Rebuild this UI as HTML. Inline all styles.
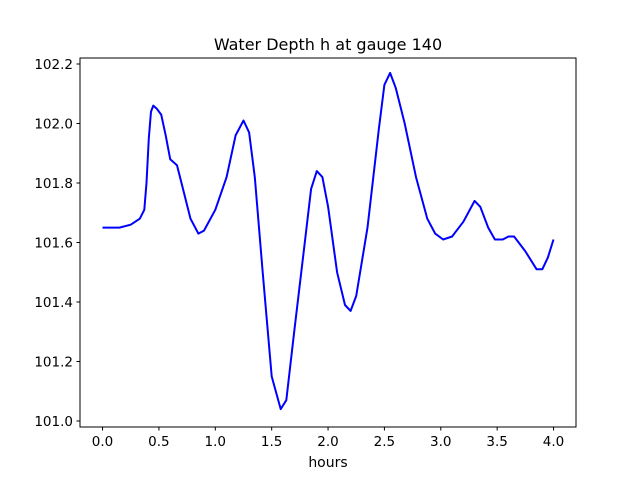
<!DOCTYPE html>
<html><head><meta charset="utf-8"><style>
body{margin:0;background:#fff}
svg text{font-family:"DejaVu Sans","Liberation Sans",sans-serif;fill:#000}
</style></head><body>
<svg width="640" height="480" xmlns="http://www.w3.org/2000/svg">
<rect width="640" height="480" fill="#fff"/>
<text x="328" y="50" font-size="16" text-anchor="middle">Water Depth h at gauge 140</text>
<g id="xt"></g>
<g id="yt"></g>
<polyline id="line" fill="none" stroke="#0000ff" stroke-width="2" stroke-linejoin="round"/>
<rect x="80" y="58" width="496" height="369" fill="none" stroke="#000" stroke-width="1"/>
<text x="328" y="467" font-size="14" text-anchor="middle">hours</text>
</svg>
<script>
const hours=[0,0.15,0.25,0.33,0.37,0.39,0.41,0.43,0.45,0.48,0.52,0.56,0.6,0.63,0.66,0.7,0.78,0.85,0.9,1.0,1.1,1.18,1.25,1.3,1.35,1.42,1.5,1.58,1.63,1.7,1.8,1.85,1.9,1.95,2.0,2.08,2.15,2.2,2.25,2.35,2.45,2.5,2.55,2.6,2.68,2.78,2.88,2.95,3.02,3.1,3.2,3.3,3.35,3.42,3.48,3.55,3.6,3.65,3.75,3.85,3.9,3.95,4.0];
const depth=[101.65,101.65,101.66,101.68,101.71,101.8,101.95,102.04,102.06,102.05,102.03,101.96,101.88,101.87,101.86,101.8,101.68,101.63,101.64,101.71,101.82,101.96,102.01,101.97,101.82,101.50,101.15,101.04,101.07,101.3,101.62,101.78,101.84,101.82,101.72,101.50,101.39,101.37,101.42,101.65,101.98,102.13,102.17,102.12,102.00,101.82,101.68,101.63,101.61,101.62,101.67,101.74,101.72,101.65,101.61,101.61,101.62,101.62,101.57,101.51,101.51,101.55,101.61];
const xTicks=[0.0,0.5,1.0,1.5,2.0,2.5,3.0,3.5,4.0];
const yTicks=[101.0,101.2,101.4,101.6,101.8,102.0,102.2];
const X=v=>80+(v+0.2)*112.75;
const Y=v=>421-(v-101.0)*297.5;
const NS="http://www.w3.org/2000/svg";
document.getElementById('line').setAttribute('points',hours.map((h,i)=>X(h).toFixed(1)+','+Y(depth[i]).toFixed(1)).join(' '));
const xt=document.getElementById('xt');
xTicks.forEach(t=>{
 const l=document.createElementNS(NS,'line');
 
 
 l.setAttribute('x1',X(t));l.setAttribute('x2',X(t));l.setAttribute('y1',427);l.setAttribute('y2',430.5);l.setAttribute('stroke','#000');
 xt.appendChild(l);
 const s=document.createElementNS(NS,'text');
 
 
 s.setAttribute('x',X(t));s.setAttribute('y',446);s.setAttribute('font-size','13.5');s.setAttribute('text-anchor','middle');
 s.textContent=t.toFixed(1);xt.appendChild(s);
});
const yt=document.getElementById('yt');
yTicks.forEach(t=>{
 const l=document.createElementNS(NS,'line');
 
 
 l.setAttribute('x1',76.5);l.setAttribute('x2',80);l.setAttribute('y1',Y(t));l.setAttribute('y2',Y(t));l.setAttribute('stroke','#000');
 yt.appendChild(l);
 const s=document.createElementNS(NS,'text');
 
 
 s.setAttribute('x',73);s.setAttribute('y',Y(t)+5);s.setAttribute('font-size','13.5');s.setAttribute('text-anchor','end');
 s.textContent=t.toFixed(1);yt.appendChild(s);
});
</script>
</body></html>
